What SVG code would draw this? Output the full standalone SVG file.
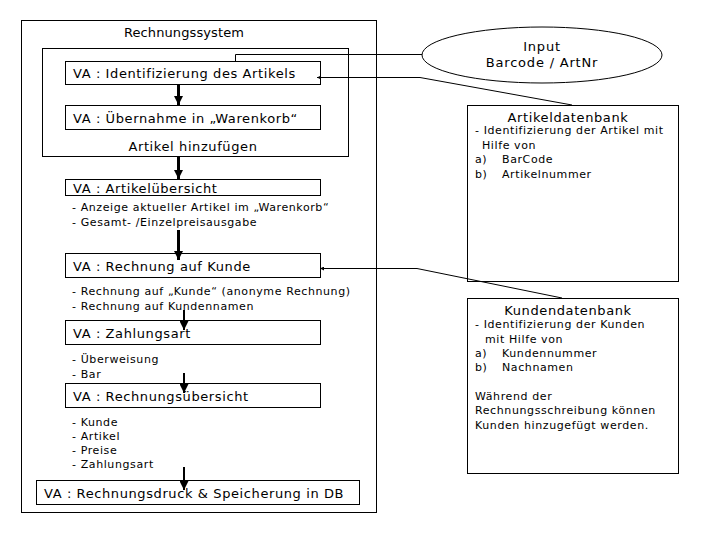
<svg xmlns="http://www.w3.org/2000/svg" width="720" height="540" viewBox="0 0 720 540">
<style>
.b{fill:#fff;stroke:#000;stroke-width:1}
.t{font-family:"DejaVu Sans",Verdana,sans-serif;font-size:13px;letter-spacing:0.6px;fill:#000}
.s{font-family:"DejaVu Sans",Verdana,sans-serif;font-size:11px;letter-spacing:0.6px;fill:#000}
.c{stroke:#000;fill:none;stroke-width:1}
.k{stroke:#000;fill:none;stroke-width:3}
.m{stroke:#000;fill:none;stroke-width:2}
</style>
<defs>
<marker id="ah" viewBox="0 0 10 10" refX="10" refY="5" markerWidth="4" markerHeight="4" orient="auto" markerUnits="userSpaceOnUse"><path d="M0,0L10,5L0,10z" fill="#000"/></marker>
<marker id="ad" viewBox="0 0 10 10" refX="10" refY="5" markerWidth="9" markerHeight="9" orient="auto" markerUnits="userSpaceOnUse"><path d="M0,0L10,5L0,10z" fill="#000"/></marker>
</defs>
<rect width="720" height="540" fill="#fff"/>
<g id="rechnungssystem">
<rect class="b" x="21.5" y="20.5" width="355" height="492"/>
<text class="t" x="184" y="37" text-anchor="middle" style="letter-spacing:0.1px">Rechnungssystem</text>
</g>
<g id="artikel-hinzufuegen">
<rect class="b" x="42.5" y="48.5" width="306" height="108"/>
<text class="t" x="193" y="151" text-anchor="middle">Artikel hinzufügen</text>
</g>
<g id="va-identifizierung">
<rect class="b" x="65.5" y="61.5" width="255" height="23"/>
<text class="t" x="73" y="78">VA : Identifizierung des Artikels</text>
</g>
<g id="va-uebernahme">
<rect class="b" x="65.5" y="105.5" width="255" height="24"/>
<text class="t" x="73" y="123">VA : Übernahme in „Warenkorb“</text>
</g>
<g id="va-artikeluebersicht">
<rect class="b" x="65.5" y="179.5" width="255" height="16"/>
<text class="t" x="73" y="193">VA : Artikelübersicht</text>
<text class="s" x="72" y="211">- Anzeige aktueller Artikel im „Warenkorb“</text>
<text class="s" x="72" y="226">- Gesamt- /Einzelpreisausgabe</text>
</g>
<g id="va-rechnung-kunde">
<rect class="b" x="65.5" y="253.5" width="255" height="24"/>
<text class="t" x="73" y="271">VA : Rechnung auf Kunde</text>
<text class="s" x="72" y="295">- Rechnung auf „Kunde“ (anonyme Rechnung)</text>
<text class="s" x="72" y="310">- Rechnung auf Kundennamen</text>
</g>
<g id="va-zahlungsart">
<rect class="b" x="65.5" y="320.5" width="255" height="24"/>
<text class="t" x="73" y="338">VA : Zahlungsart</text>
<text class="s" x="72" y="363">- Überweisung</text>
<text class="s" x="72" y="378">- Bar</text>
</g>
<g id="va-rechnungsuebersicht">
<rect class="b" x="65.5" y="383.5" width="255" height="24"/>
<text class="t" x="73" y="401">VA : Rechnungsübersicht</text>
<text class="s" x="72" y="426">- Kunde</text>
<text class="s" x="72" y="440">- Artikel</text>
<text class="s" x="72" y="454">- Preise</text>
<text class="s" x="72" y="468">- Zahlungsart</text>
</g>
<g id="va-rechnungsdruck">
<rect class="b" x="36.5" y="480.5" width="323" height="24"/>
<text class="t" x="44" y="498">VA : Rechnungsdruck &amp; Speicherung in DB</text>
</g>
<g id="input">
<ellipse class="b" cx="542" cy="55" rx="120" ry="28"/>
<text class="t" x="542" y="51" text-anchor="middle" style="letter-spacing:0.8px">Input</text>
<text class="t" x="542" y="67" text-anchor="middle" style="letter-spacing:0.8px">Barcode / ArtNr</text>
</g>
<g id="artikeldatenbank">
<rect class="b" x="467.5" y="105.5" width="211" height="176"/>
<text class="t" x="568" y="122" text-anchor="middle">Artikeldatenbank</text>
<text class="s" x="475" y="134">- Identifizierung der Artikel mit</text>
<text class="s" x="482" y="149">Hilfe von</text>
<text class="s" x="475" y="163">a)</text><text class="s" x="502" y="163">BarCode</text>
<text class="s" x="475" y="178">b)</text><text class="s" x="502" y="178">Artikelnummer</text>
</g>
<g id="kundendatenbank">
<rect class="b" x="467.5" y="298.5" width="211" height="175"/>
<text class="t" x="568" y="315" text-anchor="middle">Kundendatenbank</text>
<text class="s" x="475" y="328">- Identifizierung der Kunden</text>
<text class="s" x="485" y="343">mit Hilfe von</text>
<text class="s" x="475" y="357">a)</text><text class="s" x="502" y="357">Kundennummer</text>
<text class="s" x="475" y="371">b)</text><text class="s" x="502" y="371">Nachnamen</text>
<text class="s" x="475" y="400">Während der</text>
<text class="s" x="475" y="414">Rechnungsschreibung können</text>
<text class="s" x="475" y="429">Kunden hinzugefügt werden.</text>
</g>
<g id="connectors">
<polyline class="c" points="422,54.5 235.5,54.5 235.5,61"/>
<polyline class="c" points="572,105 420,77.5 317,77.5" marker-end="url(#ah)"/>
<polyline class="c" points="562,298 417,268.5 320,268.5" marker-end="url(#ah)"/>
<line class="k" x1="178.5" y1="84" x2="178.5" y2="105" marker-end="url(#ad)"/>
<line class="k" x1="178.5" y1="156" x2="178.5" y2="179" marker-end="url(#ad)"/>
<line class="k" x1="178.5" y1="230" x2="178.5" y2="260" marker-end="url(#ad)"/>
<line class="m" x1="184" y1="310" x2="184" y2="330" marker-end="url(#ad)"/>
<line class="m" x1="184" y1="373" x2="184" y2="393" marker-end="url(#ad)"/>
<line class="m" x1="184" y1="467" x2="184" y2="490" marker-end="url(#ad)"/>
</g>
</svg>
